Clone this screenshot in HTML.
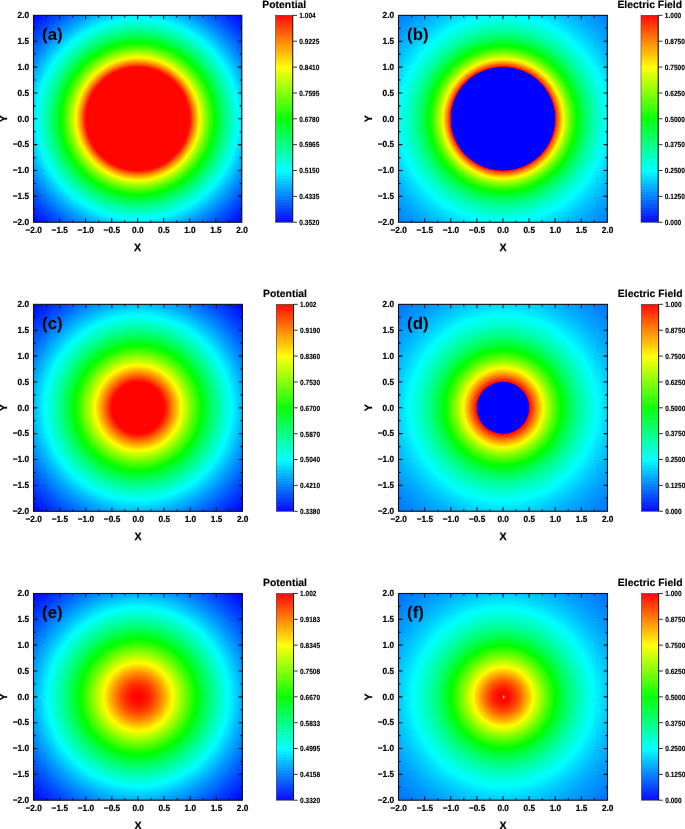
<!DOCTYPE html>
<html><head><meta charset="utf-8"><title>Potential and Electric Field</title>
<style>
html,body{margin:0;padding:0;background:#fff;}
body{width:685px;height:829px;overflow:hidden;}
svg{display:block;}
text{font-family:"Liberation Sans",sans-serif;font-weight:bold;fill:#000;text-rendering:geometricPrecision;}
.t{font-size:8.3px;stroke:#000;stroke-width:0.2px;}
.ax{font-size:10.6px;stroke:#000;stroke-width:0.25px;}
.lab{font-size:16.8px;}
.c{font-size:6.55px;stroke:#000;stroke-width:0.12px;}
.ti{font-size:10.4px;stroke:#000;stroke-width:0.15px;}
</style></head><body>
<svg width="685" height="829" viewBox="0 0 685 829">
<defs><radialGradient id="ga" gradientUnits="userSpaceOnUse" cx="137.65" cy="118.80" r="151.02" gradientTransform="translate(0 0.798) scale(1 0.99328)"><stop offset="0.0000" stop-color="#ff0600"/><stop offset="0.0086" stop-color="#ff0600"/><stop offset="0.0172" stop-color="#ff0600"/><stop offset="0.0259" stop-color="#ff0600"/><stop offset="0.0345" stop-color="#ff0600"/><stop offset="0.0431" stop-color="#ff0600"/><stop offset="0.0517" stop-color="#ff0600"/><stop offset="0.0603" stop-color="#ff0600"/><stop offset="0.0690" stop-color="#ff0600"/><stop offset="0.0776" stop-color="#ff0600"/><stop offset="0.0862" stop-color="#ff0600"/><stop offset="0.0948" stop-color="#ff0600"/><stop offset="0.1034" stop-color="#ff0600"/><stop offset="0.1121" stop-color="#ff0600"/><stop offset="0.1207" stop-color="#ff0600"/><stop offset="0.1293" stop-color="#ff0600"/><stop offset="0.1379" stop-color="#ff0600"/><stop offset="0.1466" stop-color="#ff0600"/><stop offset="0.1552" stop-color="#ff0600"/><stop offset="0.1638" stop-color="#ff0600"/><stop offset="0.1724" stop-color="#ff0600"/><stop offset="0.1810" stop-color="#ff0600"/><stop offset="0.1897" stop-color="#ff0600"/><stop offset="0.1983" stop-color="#ff0600"/><stop offset="0.2069" stop-color="#ff0600"/><stop offset="0.2155" stop-color="#ff0600"/><stop offset="0.2241" stop-color="#ff0600"/><stop offset="0.2328" stop-color="#ff0600"/><stop offset="0.2414" stop-color="#ff0600"/><stop offset="0.2500" stop-color="#ff0600"/><stop offset="0.2586" stop-color="#ff0600"/><stop offset="0.2672" stop-color="#ff0600"/><stop offset="0.2759" stop-color="#ff0600"/><stop offset="0.2845" stop-color="#ff0600"/><stop offset="0.2931" stop-color="#ff0600"/><stop offset="0.3017" stop-color="#ff0600"/><stop offset="0.3103" stop-color="#ff0600"/><stop offset="0.3190" stop-color="#ff0600"/><stop offset="0.3276" stop-color="#ff0600"/><stop offset="0.3362" stop-color="#ff0600"/><stop offset="0.3434" stop-color="#ff0600"/><stop offset="0.3462" stop-color="#ff0c00"/><stop offset="0.3534" stop-color="#ff2c00"/><stop offset="0.3621" stop-color="#ff5100"/><stop offset="0.3707" stop-color="#ff7300"/><stop offset="0.3793" stop-color="#ff9400"/><stop offset="0.3879" stop-color="#ffb400"/><stop offset="0.3966" stop-color="#ffd200"/><stop offset="0.4052" stop-color="#ffef00"/><stop offset="0.4138" stop-color="#f3ff00"/><stop offset="0.4224" stop-color="#d8ff00"/><stop offset="0.4310" stop-color="#bfff00"/><stop offset="0.4397" stop-color="#a6ff00"/><stop offset="0.4483" stop-color="#8fff00"/><stop offset="0.4569" stop-color="#78ff00"/><stop offset="0.4655" stop-color="#62ff00"/><stop offset="0.4741" stop-color="#4dff00"/><stop offset="0.4828" stop-color="#39ff00"/><stop offset="0.4914" stop-color="#25ff00"/><stop offset="0.5000" stop-color="#12ff00"/><stop offset="0.5086" stop-color="#00ff00"/><stop offset="0.5172" stop-color="#00ff12"/><stop offset="0.5259" stop-color="#00ff23"/><stop offset="0.5345" stop-color="#00ff33"/><stop offset="0.5431" stop-color="#00ff43"/><stop offset="0.5517" stop-color="#00ff53"/><stop offset="0.5603" stop-color="#00ff62"/><stop offset="0.5690" stop-color="#00ff71"/><stop offset="0.5776" stop-color="#00ff7f"/><stop offset="0.5862" stop-color="#00ff8c"/><stop offset="0.5948" stop-color="#00ff9a"/><stop offset="0.6034" stop-color="#00ffa7"/><stop offset="0.6121" stop-color="#00ffb3"/><stop offset="0.6207" stop-color="#00ffc0"/><stop offset="0.6293" stop-color="#00ffcb"/><stop offset="0.6379" stop-color="#00ffd7"/><stop offset="0.6466" stop-color="#00ffe2"/><stop offset="0.6552" stop-color="#00ffed"/><stop offset="0.6638" stop-color="#00fff8"/><stop offset="0.6724" stop-color="#00fcff"/><stop offset="0.6810" stop-color="#00f1ff"/><stop offset="0.6897" stop-color="#00e8ff"/><stop offset="0.6983" stop-color="#00deff"/><stop offset="0.7069" stop-color="#00d4ff"/><stop offset="0.7155" stop-color="#00cbff"/><stop offset="0.7241" stop-color="#00c2ff"/><stop offset="0.7328" stop-color="#00baff"/><stop offset="0.7414" stop-color="#00b1ff"/><stop offset="0.7500" stop-color="#00a9ff"/><stop offset="0.7586" stop-color="#00a0ff"/><stop offset="0.7672" stop-color="#0098ff"/><stop offset="0.7759" stop-color="#0091ff"/><stop offset="0.7845" stop-color="#0089ff"/><stop offset="0.7931" stop-color="#0082ff"/><stop offset="0.8017" stop-color="#007aff"/><stop offset="0.8103" stop-color="#0073ff"/><stop offset="0.8190" stop-color="#006cff"/><stop offset="0.8276" stop-color="#0065ff"/><stop offset="0.8362" stop-color="#005eff"/><stop offset="0.8448" stop-color="#0058ff"/><stop offset="0.8534" stop-color="#0051ff"/><stop offset="0.8621" stop-color="#004bff"/><stop offset="0.8707" stop-color="#0045ff"/><stop offset="0.8793" stop-color="#003fff"/><stop offset="0.8879" stop-color="#0039ff"/><stop offset="0.8966" stop-color="#0033ff"/><stop offset="0.9052" stop-color="#002dff"/><stop offset="0.9138" stop-color="#0028ff"/><stop offset="0.9224" stop-color="#0022ff"/><stop offset="0.9310" stop-color="#001dff"/><stop offset="0.9397" stop-color="#0017ff"/><stop offset="0.9483" stop-color="#0012ff"/><stop offset="0.9569" stop-color="#000dff"/><stop offset="0.9655" stop-color="#0008ff"/><stop offset="0.9741" stop-color="#0003ff"/><stop offset="0.9828" stop-color="#0000ff"/><stop offset="0.9914" stop-color="#0000ff"/><stop offset="1.0000" stop-color="#0000ff"/></radialGradient>
<radialGradient id="gb" gradientUnits="userSpaceOnUse" cx="502.93" cy="118.80" r="151.42" gradientTransform="translate(0 1.109) scale(1 0.99066)"><stop offset="0.0000" stop-color="#0000ff"/><stop offset="0.0086" stop-color="#0000ff"/><stop offset="0.0172" stop-color="#0000ff"/><stop offset="0.0259" stop-color="#0000ff"/><stop offset="0.0345" stop-color="#0000ff"/><stop offset="0.0431" stop-color="#0000ff"/><stop offset="0.0517" stop-color="#0000ff"/><stop offset="0.0603" stop-color="#0000ff"/><stop offset="0.0690" stop-color="#0000ff"/><stop offset="0.0776" stop-color="#0000ff"/><stop offset="0.0862" stop-color="#0000ff"/><stop offset="0.0948" stop-color="#0000ff"/><stop offset="0.1034" stop-color="#0000ff"/><stop offset="0.1121" stop-color="#0000ff"/><stop offset="0.1207" stop-color="#0000ff"/><stop offset="0.1293" stop-color="#0000ff"/><stop offset="0.1379" stop-color="#0000ff"/><stop offset="0.1466" stop-color="#0000ff"/><stop offset="0.1552" stop-color="#0000ff"/><stop offset="0.1638" stop-color="#0000ff"/><stop offset="0.1724" stop-color="#0000ff"/><stop offset="0.1810" stop-color="#0000ff"/><stop offset="0.1897" stop-color="#0000ff"/><stop offset="0.1983" stop-color="#0000ff"/><stop offset="0.2069" stop-color="#0000ff"/><stop offset="0.2155" stop-color="#0000ff"/><stop offset="0.2241" stop-color="#0000ff"/><stop offset="0.2328" stop-color="#0000ff"/><stop offset="0.2414" stop-color="#0000ff"/><stop offset="0.2500" stop-color="#0000ff"/><stop offset="0.2586" stop-color="#0000ff"/><stop offset="0.2672" stop-color="#0000ff"/><stop offset="0.2759" stop-color="#0000ff"/><stop offset="0.2845" stop-color="#0000ff"/><stop offset="0.2931" stop-color="#0000ff"/><stop offset="0.3017" stop-color="#0000ff"/><stop offset="0.3103" stop-color="#0000ff"/><stop offset="0.3190" stop-color="#0000ff"/><stop offset="0.3276" stop-color="#0000ff"/><stop offset="0.3362" stop-color="#0000ff"/><stop offset="0.3434" stop-color="#0000ff"/><stop offset="0.3462" stop-color="#ff0000"/><stop offset="0.3534" stop-color="#ff3100"/><stop offset="0.3621" stop-color="#ff5f00"/><stop offset="0.3707" stop-color="#ff8900"/><stop offset="0.3793" stop-color="#ffb100"/><stop offset="0.3879" stop-color="#ffd600"/><stop offset="0.3966" stop-color="#fff900"/><stop offset="0.4052" stop-color="#e5ff00"/><stop offset="0.4138" stop-color="#c6ff00"/><stop offset="0.4224" stop-color="#aaff00"/><stop offset="0.4310" stop-color="#8fff00"/><stop offset="0.4397" stop-color="#75ff00"/><stop offset="0.4483" stop-color="#5eff00"/><stop offset="0.4569" stop-color="#47ff00"/><stop offset="0.4655" stop-color="#32ff00"/><stop offset="0.4741" stop-color="#1eff00"/><stop offset="0.4828" stop-color="#0aff00"/><stop offset="0.4914" stop-color="#00ff08"/><stop offset="0.5000" stop-color="#00ff19"/><stop offset="0.5086" stop-color="#00ff29"/><stop offset="0.5172" stop-color="#00ff39"/><stop offset="0.5259" stop-color="#00ff47"/><stop offset="0.5345" stop-color="#00ff55"/><stop offset="0.5431" stop-color="#00ff63"/><stop offset="0.5517" stop-color="#00ff70"/><stop offset="0.5603" stop-color="#00ff7c"/><stop offset="0.5690" stop-color="#00ff87"/><stop offset="0.5776" stop-color="#00ff92"/><stop offset="0.5862" stop-color="#00ff9d"/><stop offset="0.5948" stop-color="#00ffa7"/><stop offset="0.6034" stop-color="#00ffb1"/><stop offset="0.6121" stop-color="#00ffba"/><stop offset="0.6207" stop-color="#00ffc3"/><stop offset="0.6293" stop-color="#00ffcc"/><stop offset="0.6379" stop-color="#00ffd4"/><stop offset="0.6466" stop-color="#00ffdc"/><stop offset="0.6552" stop-color="#00ffe3"/><stop offset="0.6638" stop-color="#00ffeb"/><stop offset="0.6724" stop-color="#00fff2"/><stop offset="0.6810" stop-color="#00fff9"/><stop offset="0.6897" stop-color="#00ffff"/><stop offset="0.6983" stop-color="#00f9ff"/><stop offset="0.7069" stop-color="#00f3ff"/><stop offset="0.7155" stop-color="#00edff"/><stop offset="0.7241" stop-color="#00e7ff"/><stop offset="0.7328" stop-color="#00e2ff"/><stop offset="0.7414" stop-color="#00ddff"/><stop offset="0.7500" stop-color="#00d8ff"/><stop offset="0.7586" stop-color="#00d3ff"/><stop offset="0.7672" stop-color="#00ceff"/><stop offset="0.7759" stop-color="#00c9ff"/><stop offset="0.7845" stop-color="#00c5ff"/><stop offset="0.7931" stop-color="#00c1ff"/><stop offset="0.8017" stop-color="#00bdff"/><stop offset="0.8103" stop-color="#00b9ff"/><stop offset="0.8190" stop-color="#00b5ff"/><stop offset="0.8276" stop-color="#00b1ff"/><stop offset="0.8362" stop-color="#00adff"/><stop offset="0.8448" stop-color="#00aaff"/><stop offset="0.8534" stop-color="#00a7ff"/><stop offset="0.8621" stop-color="#00a3ff"/><stop offset="0.8707" stop-color="#00a0ff"/><stop offset="0.8793" stop-color="#009dff"/><stop offset="0.8879" stop-color="#009aff"/><stop offset="0.8966" stop-color="#0097ff"/><stop offset="0.9052" stop-color="#0094ff"/><stop offset="0.9138" stop-color="#0091ff"/><stop offset="0.9224" stop-color="#008fff"/><stop offset="0.9310" stop-color="#008cff"/><stop offset="0.9397" stop-color="#0089ff"/><stop offset="0.9483" stop-color="#0087ff"/><stop offset="0.9569" stop-color="#0084ff"/><stop offset="0.9655" stop-color="#0082ff"/><stop offset="0.9741" stop-color="#0080ff"/><stop offset="0.9828" stop-color="#007eff"/><stop offset="0.9914" stop-color="#007bff"/><stop offset="1.0000" stop-color="#0079ff"/></radialGradient>
<radialGradient id="gc" gradientUnits="userSpaceOnUse" cx="137.97" cy="407.83" r="151.49" gradientTransform="translate(0 3.904) scale(1 0.99043)"><stop offset="0.0000" stop-color="#ff0300"/><stop offset="0.0086" stop-color="#ff0300"/><stop offset="0.0172" stop-color="#ff0300"/><stop offset="0.0259" stop-color="#ff0300"/><stop offset="0.0345" stop-color="#ff0300"/><stop offset="0.0431" stop-color="#ff0300"/><stop offset="0.0517" stop-color="#ff0300"/><stop offset="0.0603" stop-color="#ff0300"/><stop offset="0.0690" stop-color="#ff0300"/><stop offset="0.0776" stop-color="#ff0300"/><stop offset="0.0862" stop-color="#ff0300"/><stop offset="0.0948" stop-color="#ff0300"/><stop offset="0.1034" stop-color="#ff0300"/><stop offset="0.1121" stop-color="#ff0300"/><stop offset="0.1207" stop-color="#ff0300"/><stop offset="0.1293" stop-color="#ff0300"/><stop offset="0.1379" stop-color="#ff0300"/><stop offset="0.1466" stop-color="#ff0300"/><stop offset="0.1552" stop-color="#ff0300"/><stop offset="0.1638" stop-color="#ff0300"/><stop offset="0.1710" stop-color="#ff0300"/><stop offset="0.1738" stop-color="#ff0600"/><stop offset="0.1810" stop-color="#ff1600"/><stop offset="0.1897" stop-color="#ff2a00"/><stop offset="0.1983" stop-color="#ff3d00"/><stop offset="0.2069" stop-color="#ff5100"/><stop offset="0.2155" stop-color="#ff6500"/><stop offset="0.2241" stop-color="#ff7900"/><stop offset="0.2328" stop-color="#ff8c00"/><stop offset="0.2414" stop-color="#ffa000"/><stop offset="0.2500" stop-color="#ffb300"/><stop offset="0.2586" stop-color="#ffc600"/><stop offset="0.2672" stop-color="#ffd900"/><stop offset="0.2759" stop-color="#ffec00"/><stop offset="0.2845" stop-color="#ffff00"/><stop offset="0.2931" stop-color="#edff00"/><stop offset="0.3017" stop-color="#dbff00"/><stop offset="0.3103" stop-color="#c9ff00"/><stop offset="0.3190" stop-color="#b7ff00"/><stop offset="0.3276" stop-color="#a6ff00"/><stop offset="0.3362" stop-color="#95ff00"/><stop offset="0.3448" stop-color="#84ff00"/><stop offset="0.3534" stop-color="#74ff00"/><stop offset="0.3621" stop-color="#63ff00"/><stop offset="0.3707" stop-color="#54ff00"/><stop offset="0.3793" stop-color="#44ff00"/><stop offset="0.3879" stop-color="#35ff00"/><stop offset="0.3966" stop-color="#26ff00"/><stop offset="0.4052" stop-color="#17ff00"/><stop offset="0.4138" stop-color="#09ff00"/><stop offset="0.4224" stop-color="#00ff05"/><stop offset="0.4310" stop-color="#00ff13"/><stop offset="0.4397" stop-color="#00ff21"/><stop offset="0.4483" stop-color="#00ff2e"/><stop offset="0.4569" stop-color="#00ff3b"/><stop offset="0.4655" stop-color="#00ff47"/><stop offset="0.4741" stop-color="#00ff54"/><stop offset="0.4828" stop-color="#00ff60"/><stop offset="0.4914" stop-color="#00ff6c"/><stop offset="0.5000" stop-color="#00ff78"/><stop offset="0.5086" stop-color="#00ff83"/><stop offset="0.5172" stop-color="#00ff8e"/><stop offset="0.5259" stop-color="#00ff99"/><stop offset="0.5345" stop-color="#00ffa4"/><stop offset="0.5431" stop-color="#00ffaf"/><stop offset="0.5517" stop-color="#00ffb9"/><stop offset="0.5603" stop-color="#00ffc3"/><stop offset="0.5690" stop-color="#00ffcd"/><stop offset="0.5776" stop-color="#00ffd7"/><stop offset="0.5862" stop-color="#00ffe0"/><stop offset="0.5948" stop-color="#00ffe9"/><stop offset="0.6034" stop-color="#00fff2"/><stop offset="0.6121" stop-color="#00fffb"/><stop offset="0.6207" stop-color="#00faff"/><stop offset="0.6293" stop-color="#00f1ff"/><stop offset="0.6379" stop-color="#00e9ff"/><stop offset="0.6466" stop-color="#00e1ff"/><stop offset="0.6552" stop-color="#00d8ff"/><stop offset="0.6638" stop-color="#00d1ff"/><stop offset="0.6724" stop-color="#00c9ff"/><stop offset="0.6810" stop-color="#00c1ff"/><stop offset="0.6897" stop-color="#00baff"/><stop offset="0.6983" stop-color="#00b2ff"/><stop offset="0.7069" stop-color="#00abff"/><stop offset="0.7155" stop-color="#00a4ff"/><stop offset="0.7241" stop-color="#009dff"/><stop offset="0.7328" stop-color="#0096ff"/><stop offset="0.7414" stop-color="#0090ff"/><stop offset="0.7500" stop-color="#0089ff"/><stop offset="0.7586" stop-color="#0083ff"/><stop offset="0.7672" stop-color="#007cff"/><stop offset="0.7759" stop-color="#0076ff"/><stop offset="0.7845" stop-color="#0070ff"/><stop offset="0.7931" stop-color="#006aff"/><stop offset="0.8017" stop-color="#0064ff"/><stop offset="0.8103" stop-color="#005eff"/><stop offset="0.8190" stop-color="#0058ff"/><stop offset="0.8276" stop-color="#0053ff"/><stop offset="0.8362" stop-color="#004dff"/><stop offset="0.8448" stop-color="#0048ff"/><stop offset="0.8534" stop-color="#0043ff"/><stop offset="0.8621" stop-color="#003dff"/><stop offset="0.8707" stop-color="#0038ff"/><stop offset="0.8793" stop-color="#0033ff"/><stop offset="0.8879" stop-color="#002eff"/><stop offset="0.8966" stop-color="#0029ff"/><stop offset="0.9052" stop-color="#0025ff"/><stop offset="0.9138" stop-color="#0020ff"/><stop offset="0.9224" stop-color="#001bff"/><stop offset="0.9310" stop-color="#0017ff"/><stop offset="0.9397" stop-color="#0012ff"/><stop offset="0.9483" stop-color="#000eff"/><stop offset="0.9569" stop-color="#0009ff"/><stop offset="0.9655" stop-color="#0005ff"/><stop offset="0.9741" stop-color="#0001ff"/><stop offset="0.9828" stop-color="#0000ff"/><stop offset="0.9914" stop-color="#0000ff"/><stop offset="1.0000" stop-color="#0000ff"/></radialGradient>
<radialGradient id="gd" gradientUnits="userSpaceOnUse" cx="503.00" cy="407.80" r="151.53" gradientTransform="translate(0 4.098) scale(1 0.98995)"><stop offset="0.0000" stop-color="#0000ff"/><stop offset="0.0086" stop-color="#0000ff"/><stop offset="0.0172" stop-color="#0000ff"/><stop offset="0.0259" stop-color="#0000ff"/><stop offset="0.0345" stop-color="#0000ff"/><stop offset="0.0431" stop-color="#0000ff"/><stop offset="0.0517" stop-color="#0000ff"/><stop offset="0.0603" stop-color="#0000ff"/><stop offset="0.0690" stop-color="#0000ff"/><stop offset="0.0776" stop-color="#0000ff"/><stop offset="0.0862" stop-color="#0000ff"/><stop offset="0.0948" stop-color="#0000ff"/><stop offset="0.1034" stop-color="#0000ff"/><stop offset="0.1121" stop-color="#0000ff"/><stop offset="0.1207" stop-color="#0000ff"/><stop offset="0.1293" stop-color="#0000ff"/><stop offset="0.1379" stop-color="#0000ff"/><stop offset="0.1466" stop-color="#0000ff"/><stop offset="0.1552" stop-color="#0000ff"/><stop offset="0.1638" stop-color="#0000ff"/><stop offset="0.1710" stop-color="#0000ff"/><stop offset="0.1738" stop-color="#ff0000"/><stop offset="0.1810" stop-color="#ff1900"/><stop offset="0.1897" stop-color="#ff3300"/><stop offset="0.1983" stop-color="#ff4c00"/><stop offset="0.2069" stop-color="#ff6500"/><stop offset="0.2155" stop-color="#ff7e00"/><stop offset="0.2241" stop-color="#ff9600"/><stop offset="0.2328" stop-color="#ffae00"/><stop offset="0.2414" stop-color="#ffc500"/><stop offset="0.2500" stop-color="#ffdc00"/><stop offset="0.2586" stop-color="#fff300"/><stop offset="0.2672" stop-color="#f5ff00"/><stop offset="0.2759" stop-color="#e0ff00"/><stop offset="0.2845" stop-color="#cbff00"/><stop offset="0.2931" stop-color="#b7ff00"/><stop offset="0.3017" stop-color="#a3ff00"/><stop offset="0.3103" stop-color="#90ff00"/><stop offset="0.3190" stop-color="#7dff00"/><stop offset="0.3276" stop-color="#6bff00"/><stop offset="0.3362" stop-color="#5aff00"/><stop offset="0.3448" stop-color="#49ff00"/><stop offset="0.3534" stop-color="#38ff00"/><stop offset="0.3621" stop-color="#29ff00"/><stop offset="0.3707" stop-color="#19ff00"/><stop offset="0.3793" stop-color="#0aff00"/><stop offset="0.3879" stop-color="#00ff04"/><stop offset="0.3966" stop-color="#00ff12"/><stop offset="0.4052" stop-color="#00ff1f"/><stop offset="0.4138" stop-color="#00ff2c"/><stop offset="0.4224" stop-color="#00ff39"/><stop offset="0.4310" stop-color="#00ff45"/><stop offset="0.4397" stop-color="#00ff51"/><stop offset="0.4483" stop-color="#00ff5c"/><stop offset="0.4569" stop-color="#00ff67"/><stop offset="0.4655" stop-color="#00ff71"/><stop offset="0.4741" stop-color="#00ff7c"/><stop offset="0.4828" stop-color="#00ff86"/><stop offset="0.4914" stop-color="#00ff8f"/><stop offset="0.5000" stop-color="#00ff98"/><stop offset="0.5086" stop-color="#00ffa1"/><stop offset="0.5172" stop-color="#00ffaa"/><stop offset="0.5259" stop-color="#00ffb2"/><stop offset="0.5345" stop-color="#00ffba"/><stop offset="0.5431" stop-color="#00ffc2"/><stop offset="0.5517" stop-color="#00ffca"/><stop offset="0.5603" stop-color="#00ffd1"/><stop offset="0.5690" stop-color="#00ffd8"/><stop offset="0.5776" stop-color="#00ffdf"/><stop offset="0.5862" stop-color="#00ffe6"/><stop offset="0.5948" stop-color="#00ffec"/><stop offset="0.6034" stop-color="#00fff2"/><stop offset="0.6121" stop-color="#00fff9"/><stop offset="0.6207" stop-color="#00fffe"/><stop offset="0.6293" stop-color="#00faff"/><stop offset="0.6379" stop-color="#00f4ff"/><stop offset="0.6466" stop-color="#00efff"/><stop offset="0.6552" stop-color="#00eaff"/><stop offset="0.6638" stop-color="#00e5ff"/><stop offset="0.6724" stop-color="#00e0ff"/><stop offset="0.6810" stop-color="#00dbff"/><stop offset="0.6897" stop-color="#00d7ff"/><stop offset="0.6983" stop-color="#00d2ff"/><stop offset="0.7069" stop-color="#00ceff"/><stop offset="0.7155" stop-color="#00caff"/><stop offset="0.7241" stop-color="#00c6ff"/><stop offset="0.7328" stop-color="#00c2ff"/><stop offset="0.7414" stop-color="#00beff"/><stop offset="0.7500" stop-color="#00baff"/><stop offset="0.7586" stop-color="#00b6ff"/><stop offset="0.7672" stop-color="#00b3ff"/><stop offset="0.7759" stop-color="#00afff"/><stop offset="0.7845" stop-color="#00acff"/><stop offset="0.7931" stop-color="#00a9ff"/><stop offset="0.8017" stop-color="#00a6ff"/><stop offset="0.8103" stop-color="#00a3ff"/><stop offset="0.8190" stop-color="#00a0ff"/><stop offset="0.8276" stop-color="#009dff"/><stop offset="0.8362" stop-color="#009aff"/><stop offset="0.8448" stop-color="#0097ff"/><stop offset="0.8534" stop-color="#0094ff"/><stop offset="0.8621" stop-color="#0092ff"/><stop offset="0.8707" stop-color="#008fff"/><stop offset="0.8793" stop-color="#008dff"/><stop offset="0.8879" stop-color="#008aff"/><stop offset="0.8966" stop-color="#0088ff"/><stop offset="0.9052" stop-color="#0085ff"/><stop offset="0.9138" stop-color="#0083ff"/><stop offset="0.9224" stop-color="#0081ff"/><stop offset="0.9310" stop-color="#007fff"/><stop offset="0.9397" stop-color="#007dff"/><stop offset="0.9483" stop-color="#007bff"/><stop offset="0.9569" stop-color="#0079ff"/><stop offset="0.9655" stop-color="#0077ff"/><stop offset="0.9741" stop-color="#0075ff"/><stop offset="0.9828" stop-color="#0073ff"/><stop offset="0.9914" stop-color="#0071ff"/><stop offset="1.0000" stop-color="#006fff"/></radialGradient>
<radialGradient id="ge" gradientUnits="userSpaceOnUse" cx="137.95" cy="696.85" r="151.45" gradientTransform="translate(0 7.339) scale(1 0.98947)"><stop offset="0.0000" stop-color="#ff0300"/><stop offset="0.0086" stop-color="#ff0400"/><stop offset="0.0172" stop-color="#ff0500"/><stop offset="0.0259" stop-color="#ff0700"/><stop offset="0.0345" stop-color="#ff0b00"/><stop offset="0.0431" stop-color="#ff0f00"/><stop offset="0.0517" stop-color="#ff1400"/><stop offset="0.0603" stop-color="#ff1a00"/><stop offset="0.0690" stop-color="#ff2100"/><stop offset="0.0776" stop-color="#ff2800"/><stop offset="0.0862" stop-color="#ff3000"/><stop offset="0.0948" stop-color="#ff3a00"/><stop offset="0.1034" stop-color="#ff4300"/><stop offset="0.1121" stop-color="#ff4e00"/><stop offset="0.1207" stop-color="#ff5900"/><stop offset="0.1293" stop-color="#ff6400"/><stop offset="0.1379" stop-color="#ff7000"/><stop offset="0.1466" stop-color="#ff7c00"/><stop offset="0.1552" stop-color="#ff8900"/><stop offset="0.1638" stop-color="#ff9600"/><stop offset="0.1724" stop-color="#ffa400"/><stop offset="0.1810" stop-color="#ffb200"/><stop offset="0.1897" stop-color="#ffbf00"/><stop offset="0.1983" stop-color="#ffce00"/><stop offset="0.2069" stop-color="#ffdc00"/><stop offset="0.2155" stop-color="#ffea00"/><stop offset="0.2241" stop-color="#fff900"/><stop offset="0.2328" stop-color="#f6ff00"/><stop offset="0.2414" stop-color="#e8ff00"/><stop offset="0.2500" stop-color="#d9ff00"/><stop offset="0.2586" stop-color="#caff00"/><stop offset="0.2672" stop-color="#bcff00"/><stop offset="0.2759" stop-color="#adff00"/><stop offset="0.2845" stop-color="#9fff00"/><stop offset="0.2931" stop-color="#91ff00"/><stop offset="0.3017" stop-color="#82ff00"/><stop offset="0.3103" stop-color="#74ff00"/><stop offset="0.3190" stop-color="#66ff00"/><stop offset="0.3276" stop-color="#58ff00"/><stop offset="0.3362" stop-color="#4bff00"/><stop offset="0.3448" stop-color="#3dff00"/><stop offset="0.3534" stop-color="#30ff00"/><stop offset="0.3621" stop-color="#22ff00"/><stop offset="0.3707" stop-color="#15ff00"/><stop offset="0.3793" stop-color="#09ff00"/><stop offset="0.3879" stop-color="#00ff04"/><stop offset="0.3966" stop-color="#00ff10"/><stop offset="0.4052" stop-color="#00ff1d"/><stop offset="0.4138" stop-color="#00ff29"/><stop offset="0.4224" stop-color="#00ff35"/><stop offset="0.4310" stop-color="#00ff40"/><stop offset="0.4397" stop-color="#00ff4c"/><stop offset="0.4483" stop-color="#00ff57"/><stop offset="0.4569" stop-color="#00ff62"/><stop offset="0.4655" stop-color="#00ff6d"/><stop offset="0.4741" stop-color="#00ff78"/><stop offset="0.4828" stop-color="#00ff83"/><stop offset="0.4914" stop-color="#00ff8d"/><stop offset="0.5000" stop-color="#00ff97"/><stop offset="0.5086" stop-color="#00ffa1"/><stop offset="0.5172" stop-color="#00ffab"/><stop offset="0.5259" stop-color="#00ffb5"/><stop offset="0.5345" stop-color="#00ffbe"/><stop offset="0.5431" stop-color="#00ffc7"/><stop offset="0.5517" stop-color="#00ffd1"/><stop offset="0.5603" stop-color="#00ffda"/><stop offset="0.5690" stop-color="#00ffe2"/><stop offset="0.5776" stop-color="#00ffeb"/><stop offset="0.5862" stop-color="#00fff4"/><stop offset="0.5948" stop-color="#00fffc"/><stop offset="0.6034" stop-color="#00faff"/><stop offset="0.6121" stop-color="#00f2ff"/><stop offset="0.6207" stop-color="#00eaff"/><stop offset="0.6293" stop-color="#00e2ff"/><stop offset="0.6379" stop-color="#00daff"/><stop offset="0.6466" stop-color="#00d3ff"/><stop offset="0.6552" stop-color="#00ccff"/><stop offset="0.6638" stop-color="#00c4ff"/><stop offset="0.6724" stop-color="#00bdff"/><stop offset="0.6810" stop-color="#00b6ff"/><stop offset="0.6897" stop-color="#00afff"/><stop offset="0.6983" stop-color="#00a9ff"/><stop offset="0.7069" stop-color="#00a2ff"/><stop offset="0.7155" stop-color="#009bff"/><stop offset="0.7241" stop-color="#0095ff"/><stop offset="0.7328" stop-color="#008fff"/><stop offset="0.7414" stop-color="#0089ff"/><stop offset="0.7500" stop-color="#0083ff"/><stop offset="0.7586" stop-color="#007dff"/><stop offset="0.7672" stop-color="#0077ff"/><stop offset="0.7759" stop-color="#0071ff"/><stop offset="0.7845" stop-color="#006bff"/><stop offset="0.7931" stop-color="#0066ff"/><stop offset="0.8017" stop-color="#0060ff"/><stop offset="0.8103" stop-color="#005bff"/><stop offset="0.8190" stop-color="#0055ff"/><stop offset="0.8276" stop-color="#0050ff"/><stop offset="0.8362" stop-color="#004bff"/><stop offset="0.8448" stop-color="#0046ff"/><stop offset="0.8534" stop-color="#0041ff"/><stop offset="0.8621" stop-color="#003cff"/><stop offset="0.8707" stop-color="#0037ff"/><stop offset="0.8793" stop-color="#0032ff"/><stop offset="0.8879" stop-color="#002eff"/><stop offset="0.8966" stop-color="#0029ff"/><stop offset="0.9052" stop-color="#0025ff"/><stop offset="0.9138" stop-color="#0020ff"/><stop offset="0.9224" stop-color="#001cff"/><stop offset="0.9310" stop-color="#0017ff"/><stop offset="0.9397" stop-color="#0013ff"/><stop offset="0.9483" stop-color="#000fff"/><stop offset="0.9569" stop-color="#000bff"/><stop offset="0.9655" stop-color="#0007ff"/><stop offset="0.9741" stop-color="#0003ff"/><stop offset="0.9828" stop-color="#0000ff"/><stop offset="0.9914" stop-color="#0000ff"/><stop offset="1.0000" stop-color="#0000ff"/></radialGradient>
<radialGradient id="gf" gradientUnits="userSpaceOnUse" cx="503.00" cy="696.85" r="151.53" gradientTransform="translate(0 7.669) scale(1 0.98900)"><stop offset="0.0000" stop-color="#ff0000"/><stop offset="0.0086" stop-color="#ff0100"/><stop offset="0.0172" stop-color="#ff0300"/><stop offset="0.0259" stop-color="#ff0600"/><stop offset="0.0345" stop-color="#ff0a00"/><stop offset="0.0431" stop-color="#ff1000"/><stop offset="0.0517" stop-color="#ff1600"/><stop offset="0.0603" stop-color="#ff1e00"/><stop offset="0.0690" stop-color="#ff2700"/><stop offset="0.0776" stop-color="#ff3100"/><stop offset="0.0862" stop-color="#ff3c00"/><stop offset="0.0948" stop-color="#ff4800"/><stop offset="0.1034" stop-color="#ff5400"/><stop offset="0.1121" stop-color="#ff6100"/><stop offset="0.1207" stop-color="#ff6f00"/><stop offset="0.1293" stop-color="#ff7e00"/><stop offset="0.1379" stop-color="#ff8d00"/><stop offset="0.1466" stop-color="#ff9c00"/><stop offset="0.1552" stop-color="#ffac00"/><stop offset="0.1638" stop-color="#ffbc00"/><stop offset="0.1724" stop-color="#ffcc00"/><stop offset="0.1810" stop-color="#ffdc00"/><stop offset="0.1897" stop-color="#ffed00"/><stop offset="0.1983" stop-color="#fffd00"/><stop offset="0.2069" stop-color="#f0ff00"/><stop offset="0.2155" stop-color="#dfff00"/><stop offset="0.2241" stop-color="#cfff00"/><stop offset="0.2328" stop-color="#bfff00"/><stop offset="0.2414" stop-color="#afff00"/><stop offset="0.2500" stop-color="#9fff00"/><stop offset="0.2586" stop-color="#8fff00"/><stop offset="0.2672" stop-color="#7fff00"/><stop offset="0.2759" stop-color="#70ff00"/><stop offset="0.2845" stop-color="#61ff00"/><stop offset="0.2931" stop-color="#52ff00"/><stop offset="0.3017" stop-color="#44ff00"/><stop offset="0.3103" stop-color="#36ff00"/><stop offset="0.3190" stop-color="#28ff00"/><stop offset="0.3276" stop-color="#1aff00"/><stop offset="0.3362" stop-color="#0dff00"/><stop offset="0.3448" stop-color="#00ff00"/><stop offset="0.3534" stop-color="#00ff0d"/><stop offset="0.3621" stop-color="#00ff19"/><stop offset="0.3707" stop-color="#00ff25"/><stop offset="0.3793" stop-color="#00ff30"/><stop offset="0.3879" stop-color="#00ff3c"/><stop offset="0.3966" stop-color="#00ff47"/><stop offset="0.4052" stop-color="#00ff52"/><stop offset="0.4138" stop-color="#00ff5c"/><stop offset="0.4224" stop-color="#00ff66"/><stop offset="0.4310" stop-color="#00ff70"/><stop offset="0.4397" stop-color="#00ff7a"/><stop offset="0.4483" stop-color="#00ff83"/><stop offset="0.4569" stop-color="#00ff8c"/><stop offset="0.4655" stop-color="#00ff95"/><stop offset="0.4741" stop-color="#00ff9d"/><stop offset="0.4828" stop-color="#00ffa5"/><stop offset="0.4914" stop-color="#00ffad"/><stop offset="0.5000" stop-color="#00ffb5"/><stop offset="0.5086" stop-color="#00ffbd"/><stop offset="0.5172" stop-color="#00ffc4"/><stop offset="0.5259" stop-color="#00ffcb"/><stop offset="0.5345" stop-color="#00ffd2"/><stop offset="0.5431" stop-color="#00ffd9"/><stop offset="0.5517" stop-color="#00ffdf"/><stop offset="0.5603" stop-color="#00ffe6"/><stop offset="0.5690" stop-color="#00ffec"/><stop offset="0.5776" stop-color="#00fff2"/><stop offset="0.5862" stop-color="#00fff8"/><stop offset="0.5948" stop-color="#00fffd"/><stop offset="0.6034" stop-color="#00fbff"/><stop offset="0.6121" stop-color="#00f6ff"/><stop offset="0.6207" stop-color="#00f1ff"/><stop offset="0.6293" stop-color="#00ecff"/><stop offset="0.6379" stop-color="#00e7ff"/><stop offset="0.6466" stop-color="#00e2ff"/><stop offset="0.6552" stop-color="#00ddff"/><stop offset="0.6638" stop-color="#00d9ff"/><stop offset="0.6724" stop-color="#00d4ff"/><stop offset="0.6810" stop-color="#00d0ff"/><stop offset="0.6897" stop-color="#00ccff"/><stop offset="0.6983" stop-color="#00c8ff"/><stop offset="0.7069" stop-color="#00c4ff"/><stop offset="0.7155" stop-color="#00c0ff"/><stop offset="0.7241" stop-color="#00bdff"/><stop offset="0.7328" stop-color="#00b9ff"/><stop offset="0.7414" stop-color="#00b5ff"/><stop offset="0.7500" stop-color="#00b2ff"/><stop offset="0.7586" stop-color="#00afff"/><stop offset="0.7672" stop-color="#00abff"/><stop offset="0.7759" stop-color="#00a8ff"/><stop offset="0.7845" stop-color="#00a5ff"/><stop offset="0.7931" stop-color="#00a2ff"/><stop offset="0.8017" stop-color="#009fff"/><stop offset="0.8103" stop-color="#009cff"/><stop offset="0.8190" stop-color="#009aff"/><stop offset="0.8276" stop-color="#0097ff"/><stop offset="0.8362" stop-color="#0094ff"/><stop offset="0.8448" stop-color="#0092ff"/><stop offset="0.8534" stop-color="#008fff"/><stop offset="0.8621" stop-color="#008dff"/><stop offset="0.8707" stop-color="#008aff"/><stop offset="0.8793" stop-color="#0088ff"/><stop offset="0.8879" stop-color="#0086ff"/><stop offset="0.8966" stop-color="#0083ff"/><stop offset="0.9052" stop-color="#0081ff"/><stop offset="0.9138" stop-color="#007fff"/><stop offset="0.9224" stop-color="#007dff"/><stop offset="0.9310" stop-color="#007bff"/><stop offset="0.9397" stop-color="#0079ff"/><stop offset="0.9483" stop-color="#0077ff"/><stop offset="0.9569" stop-color="#0075ff"/><stop offset="0.9655" stop-color="#0073ff"/><stop offset="0.9741" stop-color="#0072ff"/><stop offset="0.9828" stop-color="#0070ff"/><stop offset="0.9914" stop-color="#006eff"/><stop offset="1.0000" stop-color="#006cff"/></radialGradient>
<pattern id="st" patternUnits="userSpaceOnUse" x="0" y="0" width="20" height="2.01"><rect x="0" y="1.0" width="20" height="1.0" fill="#fff" fill-opacity="0.08"/></pattern>
<linearGradient id="cb" x1="0" y1="0" x2="0" y2="1"><stop offset="0.0000" stop-color="#ff0500"/><stop offset="0.0097" stop-color="#ff0500"/><stop offset="0.0097" stop-color="#ff0f00"/><stop offset="0.0194" stop-color="#ff0f00"/><stop offset="0.0194" stop-color="#ff1900"/><stop offset="0.0291" stop-color="#ff1900"/><stop offset="0.0291" stop-color="#ff2300"/><stop offset="0.0388" stop-color="#ff2300"/><stop offset="0.0388" stop-color="#ff2d00"/><stop offset="0.0485" stop-color="#ff2d00"/><stop offset="0.0485" stop-color="#ff3600"/><stop offset="0.0583" stop-color="#ff3600"/><stop offset="0.0583" stop-color="#ff4000"/><stop offset="0.0680" stop-color="#ff4000"/><stop offset="0.0680" stop-color="#ff4a00"/><stop offset="0.0777" stop-color="#ff4a00"/><stop offset="0.0777" stop-color="#ff5400"/><stop offset="0.0874" stop-color="#ff5400"/><stop offset="0.0874" stop-color="#ff5e00"/><stop offset="0.0971" stop-color="#ff5e00"/><stop offset="0.0971" stop-color="#ff6800"/><stop offset="0.1068" stop-color="#ff6800"/><stop offset="0.1068" stop-color="#ff7200"/><stop offset="0.1165" stop-color="#ff7200"/><stop offset="0.1165" stop-color="#ff7c00"/><stop offset="0.1262" stop-color="#ff7c00"/><stop offset="0.1262" stop-color="#ff8600"/><stop offset="0.1359" stop-color="#ff8600"/><stop offset="0.1359" stop-color="#ff9000"/><stop offset="0.1456" stop-color="#ff9000"/><stop offset="0.1456" stop-color="#ff9900"/><stop offset="0.1553" stop-color="#ff9900"/><stop offset="0.1553" stop-color="#ffa300"/><stop offset="0.1650" stop-color="#ffa300"/><stop offset="0.1650" stop-color="#ffad00"/><stop offset="0.1748" stop-color="#ffad00"/><stop offset="0.1748" stop-color="#ffb700"/><stop offset="0.1845" stop-color="#ffb700"/><stop offset="0.1845" stop-color="#ffc100"/><stop offset="0.1942" stop-color="#ffc100"/><stop offset="0.1942" stop-color="#ffcb00"/><stop offset="0.2039" stop-color="#ffcb00"/><stop offset="0.2039" stop-color="#ffd500"/><stop offset="0.2136" stop-color="#ffd500"/><stop offset="0.2136" stop-color="#ffdf00"/><stop offset="0.2233" stop-color="#ffdf00"/><stop offset="0.2233" stop-color="#ffe900"/><stop offset="0.2330" stop-color="#ffe900"/><stop offset="0.2330" stop-color="#fff300"/><stop offset="0.2427" stop-color="#fff300"/><stop offset="0.2427" stop-color="#fffd00"/><stop offset="0.2524" stop-color="#fffd00"/><stop offset="0.2524" stop-color="#f8ff00"/><stop offset="0.2621" stop-color="#f8ff00"/><stop offset="0.2621" stop-color="#eeff00"/><stop offset="0.2718" stop-color="#eeff00"/><stop offset="0.2718" stop-color="#e4ff00"/><stop offset="0.2816" stop-color="#e4ff00"/><stop offset="0.2816" stop-color="#daff00"/><stop offset="0.2913" stop-color="#daff00"/><stop offset="0.2913" stop-color="#d0ff00"/><stop offset="0.3010" stop-color="#d0ff00"/><stop offset="0.3010" stop-color="#c6ff00"/><stop offset="0.3107" stop-color="#c6ff00"/><stop offset="0.3107" stop-color="#bcff00"/><stop offset="0.3204" stop-color="#bcff00"/><stop offset="0.3204" stop-color="#b2ff00"/><stop offset="0.3301" stop-color="#b2ff00"/><stop offset="0.3301" stop-color="#a8ff00"/><stop offset="0.3398" stop-color="#a8ff00"/><stop offset="0.3398" stop-color="#9eff00"/><stop offset="0.3495" stop-color="#9eff00"/><stop offset="0.3495" stop-color="#95ff00"/><stop offset="0.3592" stop-color="#95ff00"/><stop offset="0.3592" stop-color="#8bff00"/><stop offset="0.3689" stop-color="#8bff00"/><stop offset="0.3689" stop-color="#81ff00"/><stop offset="0.3786" stop-color="#81ff00"/><stop offset="0.3786" stop-color="#77ff00"/><stop offset="0.3883" stop-color="#77ff00"/><stop offset="0.3883" stop-color="#6dff00"/><stop offset="0.3981" stop-color="#6dff00"/><stop offset="0.3981" stop-color="#63ff00"/><stop offset="0.4078" stop-color="#63ff00"/><stop offset="0.4078" stop-color="#59ff00"/><stop offset="0.4175" stop-color="#59ff00"/><stop offset="0.4175" stop-color="#4fff00"/><stop offset="0.4272" stop-color="#4fff00"/><stop offset="0.4272" stop-color="#45ff00"/><stop offset="0.4369" stop-color="#45ff00"/><stop offset="0.4369" stop-color="#3bff00"/><stop offset="0.4466" stop-color="#3bff00"/><stop offset="0.4466" stop-color="#32ff00"/><stop offset="0.4563" stop-color="#32ff00"/><stop offset="0.4563" stop-color="#28ff00"/><stop offset="0.4660" stop-color="#28ff00"/><stop offset="0.4660" stop-color="#1eff00"/><stop offset="0.4757" stop-color="#1eff00"/><stop offset="0.4757" stop-color="#14ff00"/><stop offset="0.4854" stop-color="#14ff00"/><stop offset="0.4854" stop-color="#0aff00"/><stop offset="0.4951" stop-color="#0aff00"/><stop offset="0.4951" stop-color="#00ff00"/><stop offset="0.5049" stop-color="#00ff00"/><stop offset="0.5049" stop-color="#00ff0a"/><stop offset="0.5146" stop-color="#00ff0a"/><stop offset="0.5146" stop-color="#00ff14"/><stop offset="0.5243" stop-color="#00ff14"/><stop offset="0.5243" stop-color="#00ff1e"/><stop offset="0.5340" stop-color="#00ff1e"/><stop offset="0.5340" stop-color="#00ff28"/><stop offset="0.5437" stop-color="#00ff28"/><stop offset="0.5437" stop-color="#00ff32"/><stop offset="0.5534" stop-color="#00ff32"/><stop offset="0.5534" stop-color="#00ff3b"/><stop offset="0.5631" stop-color="#00ff3b"/><stop offset="0.5631" stop-color="#00ff45"/><stop offset="0.5728" stop-color="#00ff45"/><stop offset="0.5728" stop-color="#00ff4f"/><stop offset="0.5825" stop-color="#00ff4f"/><stop offset="0.5825" stop-color="#00ff59"/><stop offset="0.5922" stop-color="#00ff59"/><stop offset="0.5922" stop-color="#00ff63"/><stop offset="0.6019" stop-color="#00ff63"/><stop offset="0.6019" stop-color="#00ff6d"/><stop offset="0.6117" stop-color="#00ff6d"/><stop offset="0.6117" stop-color="#00ff77"/><stop offset="0.6214" stop-color="#00ff77"/><stop offset="0.6214" stop-color="#00ff81"/><stop offset="0.6311" stop-color="#00ff81"/><stop offset="0.6311" stop-color="#00ff8b"/><stop offset="0.6408" stop-color="#00ff8b"/><stop offset="0.6408" stop-color="#00ff95"/><stop offset="0.6505" stop-color="#00ff95"/><stop offset="0.6505" stop-color="#00ff9e"/><stop offset="0.6602" stop-color="#00ff9e"/><stop offset="0.6602" stop-color="#00ffa8"/><stop offset="0.6699" stop-color="#00ffa8"/><stop offset="0.6699" stop-color="#00ffb2"/><stop offset="0.6796" stop-color="#00ffb2"/><stop offset="0.6796" stop-color="#00ffbc"/><stop offset="0.6893" stop-color="#00ffbc"/><stop offset="0.6893" stop-color="#00ffc6"/><stop offset="0.6990" stop-color="#00ffc6"/><stop offset="0.6990" stop-color="#00ffd0"/><stop offset="0.7087" stop-color="#00ffd0"/><stop offset="0.7087" stop-color="#00ffda"/><stop offset="0.7184" stop-color="#00ffda"/><stop offset="0.7184" stop-color="#00ffe4"/><stop offset="0.7282" stop-color="#00ffe4"/><stop offset="0.7282" stop-color="#00ffee"/><stop offset="0.7379" stop-color="#00ffee"/><stop offset="0.7379" stop-color="#00fff8"/><stop offset="0.7476" stop-color="#00fff8"/><stop offset="0.7476" stop-color="#00fdff"/><stop offset="0.7573" stop-color="#00fdff"/><stop offset="0.7573" stop-color="#00f3ff"/><stop offset="0.7670" stop-color="#00f3ff"/><stop offset="0.7670" stop-color="#00e9ff"/><stop offset="0.7767" stop-color="#00e9ff"/><stop offset="0.7767" stop-color="#00dfff"/><stop offset="0.7864" stop-color="#00dfff"/><stop offset="0.7864" stop-color="#00d5ff"/><stop offset="0.7961" stop-color="#00d5ff"/><stop offset="0.7961" stop-color="#00cbff"/><stop offset="0.8058" stop-color="#00cbff"/><stop offset="0.8058" stop-color="#00c1ff"/><stop offset="0.8155" stop-color="#00c1ff"/><stop offset="0.8155" stop-color="#00b7ff"/><stop offset="0.8252" stop-color="#00b7ff"/><stop offset="0.8252" stop-color="#00adff"/><stop offset="0.8350" stop-color="#00adff"/><stop offset="0.8350" stop-color="#00a3ff"/><stop offset="0.8447" stop-color="#00a3ff"/><stop offset="0.8447" stop-color="#0099ff"/><stop offset="0.8544" stop-color="#0099ff"/><stop offset="0.8544" stop-color="#0090ff"/><stop offset="0.8641" stop-color="#0090ff"/><stop offset="0.8641" stop-color="#0086ff"/><stop offset="0.8738" stop-color="#0086ff"/><stop offset="0.8738" stop-color="#007cff"/><stop offset="0.8835" stop-color="#007cff"/><stop offset="0.8835" stop-color="#0072ff"/><stop offset="0.8932" stop-color="#0072ff"/><stop offset="0.8932" stop-color="#0068ff"/><stop offset="0.9029" stop-color="#0068ff"/><stop offset="0.9029" stop-color="#005eff"/><stop offset="0.9126" stop-color="#005eff"/><stop offset="0.9126" stop-color="#0054ff"/><stop offset="0.9223" stop-color="#0054ff"/><stop offset="0.9223" stop-color="#004aff"/><stop offset="0.9320" stop-color="#004aff"/><stop offset="0.9320" stop-color="#0040ff"/><stop offset="0.9417" stop-color="#0040ff"/><stop offset="0.9417" stop-color="#0036ff"/><stop offset="0.9515" stop-color="#0036ff"/><stop offset="0.9515" stop-color="#002dff"/><stop offset="0.9612" stop-color="#002dff"/><stop offset="0.9612" stop-color="#0023ff"/><stop offset="0.9709" stop-color="#0023ff"/><stop offset="0.9709" stop-color="#0019ff"/><stop offset="0.9806" stop-color="#0019ff"/><stop offset="0.9806" stop-color="#000fff"/><stop offset="0.9903" stop-color="#000fff"/><stop offset="0.9903" stop-color="#0005ff"/><stop offset="1.0000" stop-color="#0005ff"/></linearGradient></defs>
<rect width="685" height="829" fill="#fff"/>
<g><rect x="33.50" y="15.35" width="208.30" height="206.90" fill="url(#ga)"/><path d="M46.52 222.25v-2.10M46.52 15.35v2.10M33.50 28.28h2.10M241.80 28.28h-2.10M59.54 222.25v-3.90M59.54 15.35v3.90M33.50 41.21h3.90M241.80 41.21h-3.90M72.56 222.25v-2.10M72.56 15.35v2.10M33.50 54.14h2.10M241.80 54.14h-2.10M85.58 222.25v-3.90M85.58 15.35v3.90M33.50 67.08h3.90M241.80 67.08h-3.90M98.59 222.25v-2.10M98.59 15.35v2.10M33.50 80.01h2.10M241.80 80.01h-2.10M111.61 222.25v-3.90M111.61 15.35v3.90M33.50 92.94h3.90M241.80 92.94h-3.90M124.63 222.25v-2.10M124.63 15.35v2.10M33.50 105.87h2.10M241.80 105.87h-2.10M137.65 222.25v-3.90M137.65 15.35v3.90M33.50 118.80h3.90M241.80 118.80h-3.90M150.67 222.25v-2.10M150.67 15.35v2.10M33.50 131.73h2.10M241.80 131.73h-2.10M163.69 222.25v-3.90M163.69 15.35v3.90M33.50 144.66h3.90M241.80 144.66h-3.90M176.71 222.25v-2.10M176.71 15.35v2.10M33.50 157.59h2.10M241.80 157.59h-2.10M189.73 222.25v-3.90M189.73 15.35v3.90M33.50 170.53h3.90M241.80 170.53h-3.90M202.74 222.25v-2.10M202.74 15.35v2.10M33.50 183.46h2.10M241.80 183.46h-2.10M215.76 222.25v-3.90M215.76 15.35v3.90M33.50 196.39h3.90M241.80 196.39h-3.90M228.78 222.25v-2.10M228.78 15.35v2.10M33.50 209.32h2.10M241.80 209.32h-2.10" stroke="#111" stroke-width="1.1" fill="none"/><rect x="33.50" y="15.35" width="208.30" height="206.90" fill="none" stroke="#111" stroke-width="1.12"/><text class="t" transform="translate(33.70 233.25) scale(1 1.07)" text-anchor="middle">−2.0</text><text class="t" transform="translate(29.10 224.95) scale(1 1.07)" text-anchor="end">−2.0</text><text class="t" transform="translate(59.74 233.25) scale(1 1.07)" text-anchor="middle">−1.5</text><text class="t" transform="translate(29.10 199.09) scale(1 1.07)" text-anchor="end">−1.5</text><text class="t" transform="translate(85.78 233.25) scale(1 1.07)" text-anchor="middle">−1.0</text><text class="t" transform="translate(29.10 173.22) scale(1 1.07)" text-anchor="end">−1.0</text><text class="t" transform="translate(111.81 233.25) scale(1 1.07)" text-anchor="middle">−0.5</text><text class="t" transform="translate(29.10 147.36) scale(1 1.07)" text-anchor="end">−0.5</text><text class="t" transform="translate(137.85 233.25) scale(1 1.07)" text-anchor="middle">0.0</text><text class="t" transform="translate(29.10 121.50) scale(1 1.07)" text-anchor="end">0.0</text><text class="t" transform="translate(163.89 233.25) scale(1 1.07)" text-anchor="middle">0.5</text><text class="t" transform="translate(29.10 95.64) scale(1 1.07)" text-anchor="end">0.5</text><text class="t" transform="translate(189.93 233.25) scale(1 1.07)" text-anchor="middle">1.0</text><text class="t" transform="translate(29.10 69.77) scale(1 1.07)" text-anchor="end">1.0</text><text class="t" transform="translate(215.96 233.25) scale(1 1.07)" text-anchor="middle">1.5</text><text class="t" transform="translate(29.10 43.91) scale(1 1.07)" text-anchor="end">1.5</text><text class="t" transform="translate(242.00 233.25) scale(1 1.07)" text-anchor="middle">2.0</text><text class="t" transform="translate(29.10 18.05) scale(1 1.07)" text-anchor="end">2.0</text><text class="ax" x="137.65" y="250.75" text-anchor="middle">X</text><text class="ax" transform="translate(7.10 118.80) rotate(-90)" text-anchor="middle">Y</text><text class="lab" x="42.10" y="39.75">(a)</text><rect x="275.55" y="0.00" width="17.10" height="206.90" fill="url(#cb)" transform="translate(0 15.35)"/><rect x="275.55" y="0.00" width="17.10" height="206.90" fill="url(#st)" transform="translate(0 15.35)"/><rect x="275.55" y="15.35" width="17.10" height="206.90" fill="none" stroke="#333" stroke-width="0.55"/><path d="M292.80 15.35v206.90" stroke="#000" stroke-width="0.8" fill="none"/><text class="c" transform="translate(299.35 17.80) scale(1 1.13)" >1.004</text><text class="c" transform="translate(299.35 43.74) scale(1 1.13)" >0.9225</text><text class="c" transform="translate(299.35 69.68) scale(1 1.13)" >0.8410</text><text class="c" transform="translate(299.35 95.61) scale(1 1.13)" >0.7595</text><text class="c" transform="translate(299.35 121.55) scale(1 1.13)" >0.6780</text><text class="c" transform="translate(299.35 147.49) scale(1 1.13)" >0.5965</text><text class="c" transform="translate(299.35 173.42) scale(1 1.13)" >0.5150</text><text class="c" transform="translate(299.35 199.36) scale(1 1.13)" >0.4335</text><text class="c" transform="translate(299.35 225.30) scale(1 1.13)" >0.3520</text><path d="M292.65 15.35h4.4M292.65 41.21h4.4M292.65 67.08h4.4M292.65 92.94h4.4M292.65 118.80h4.4M292.65 144.66h4.4M292.65 170.53h4.4M292.65 196.39h4.4M292.65 222.25h4.4" stroke="#000" stroke-width="0.8" fill="none"/><text class="ti" x="284.30" y="7.95" text-anchor="middle">Potential</text></g>
<g><rect x="398.50" y="15.35" width="208.85" height="206.90" fill="url(#gb)"/><path d="M411.55 222.25v-2.10M411.55 15.35v2.10M398.50 28.28h2.10M607.35 28.28h-2.10M424.61 222.25v-3.90M424.61 15.35v3.90M398.50 41.21h3.90M607.35 41.21h-3.90M437.66 222.25v-2.10M437.66 15.35v2.10M398.50 54.14h2.10M607.35 54.14h-2.10M450.71 222.25v-3.90M450.71 15.35v3.90M398.50 67.08h3.90M607.35 67.08h-3.90M463.77 222.25v-2.10M463.77 15.35v2.10M398.50 80.01h2.10M607.35 80.01h-2.10M476.82 222.25v-3.90M476.82 15.35v3.90M398.50 92.94h3.90M607.35 92.94h-3.90M489.87 222.25v-2.10M489.87 15.35v2.10M398.50 105.87h2.10M607.35 105.87h-2.10M502.93 222.25v-3.90M502.93 15.35v3.90M398.50 118.80h3.90M607.35 118.80h-3.90M515.98 222.25v-2.10M515.98 15.35v2.10M398.50 131.73h2.10M607.35 131.73h-2.10M529.03 222.25v-3.90M529.03 15.35v3.90M398.50 144.66h3.90M607.35 144.66h-3.90M542.08 222.25v-2.10M542.08 15.35v2.10M398.50 157.59h2.10M607.35 157.59h-2.10M555.14 222.25v-3.90M555.14 15.35v3.90M398.50 170.53h3.90M607.35 170.53h-3.90M568.19 222.25v-2.10M568.19 15.35v2.10M398.50 183.46h2.10M607.35 183.46h-2.10M581.24 222.25v-3.90M581.24 15.35v3.90M398.50 196.39h3.90M607.35 196.39h-3.90M594.30 222.25v-2.10M594.30 15.35v2.10M398.50 209.32h2.10M607.35 209.32h-2.10" stroke="#111" stroke-width="1.1" fill="none"/><rect x="398.50" y="15.35" width="208.85" height="206.90" fill="none" stroke="#111" stroke-width="1.12"/><text class="t" transform="translate(398.70 233.25) scale(1 1.07)" text-anchor="middle">−2.0</text><text class="t" transform="translate(394.10 224.95) scale(1 1.07)" text-anchor="end">−2.0</text><text class="t" transform="translate(424.81 233.25) scale(1 1.07)" text-anchor="middle">−1.5</text><text class="t" transform="translate(394.10 199.09) scale(1 1.07)" text-anchor="end">−1.5</text><text class="t" transform="translate(450.91 233.25) scale(1 1.07)" text-anchor="middle">−1.0</text><text class="t" transform="translate(394.10 173.22) scale(1 1.07)" text-anchor="end">−1.0</text><text class="t" transform="translate(477.02 233.25) scale(1 1.07)" text-anchor="middle">−0.5</text><text class="t" transform="translate(394.10 147.36) scale(1 1.07)" text-anchor="end">−0.5</text><text class="t" transform="translate(503.12 233.25) scale(1 1.07)" text-anchor="middle">0.0</text><text class="t" transform="translate(394.10 121.50) scale(1 1.07)" text-anchor="end">0.0</text><text class="t" transform="translate(529.23 233.25) scale(1 1.07)" text-anchor="middle">0.5</text><text class="t" transform="translate(394.10 95.64) scale(1 1.07)" text-anchor="end">0.5</text><text class="t" transform="translate(555.34 233.25) scale(1 1.07)" text-anchor="middle">1.0</text><text class="t" transform="translate(394.10 69.77) scale(1 1.07)" text-anchor="end">1.0</text><text class="t" transform="translate(581.44 233.25) scale(1 1.07)" text-anchor="middle">1.5</text><text class="t" transform="translate(394.10 43.91) scale(1 1.07)" text-anchor="end">1.5</text><text class="t" transform="translate(607.55 233.25) scale(1 1.07)" text-anchor="middle">2.0</text><text class="t" transform="translate(394.10 18.05) scale(1 1.07)" text-anchor="end">2.0</text><text class="ax" x="502.93" y="250.75" text-anchor="middle">X</text><text class="ax" transform="translate(372.10 118.80) rotate(-90)" text-anchor="middle">Y</text><text class="lab" x="407.10" y="39.75">(b)</text><rect x="641.00" y="0.00" width="17.10" height="206.90" fill="url(#cb)" transform="translate(0 15.35)"/><rect x="641.00" y="0.00" width="17.10" height="206.90" fill="url(#st)" transform="translate(0 15.35)"/><rect x="641.00" y="15.35" width="17.10" height="206.90" fill="none" stroke="#333" stroke-width="0.55"/><path d="M658.25 15.35v206.90" stroke="#000" stroke-width="0.8" fill="none"/><text class="c" transform="translate(664.80 17.80) scale(1 1.13)" >1.000</text><text class="c" transform="translate(664.80 43.74) scale(1 1.13)" >0.8750</text><text class="c" transform="translate(664.80 69.68) scale(1 1.13)" >0.7500</text><text class="c" transform="translate(664.80 95.61) scale(1 1.13)" >0.6250</text><text class="c" transform="translate(664.80 121.55) scale(1 1.13)" >0.5000</text><text class="c" transform="translate(664.80 147.49) scale(1 1.13)" >0.3750</text><text class="c" transform="translate(664.80 173.42) scale(1 1.13)" >0.2500</text><text class="c" transform="translate(664.80 199.36) scale(1 1.13)" >0.1250</text><text class="c" transform="translate(664.80 225.30) scale(1 1.13)" >0.000</text><path d="M658.10 15.35h4.4M658.10 41.21h4.4M658.10 67.08h4.4M658.10 92.94h4.4M658.10 118.80h4.4M658.10 144.66h4.4M658.10 170.53h4.4M658.10 196.39h4.4M658.10 222.25h4.4" stroke="#000" stroke-width="0.8" fill="none"/><text class="ti" x="649.75" y="7.95" text-anchor="middle">Electric Field</text></g>
<g><rect x="33.50" y="304.35" width="208.95" height="206.95" fill="url(#gc)"/><path d="M46.56 511.30v-2.10M46.56 304.35v2.10M33.50 317.28h2.10M242.45 317.28h-2.10M59.62 511.30v-3.90M59.62 304.35v3.90M33.50 330.22h3.90M242.45 330.22h-3.90M72.68 511.30v-2.10M72.68 304.35v2.10M33.50 343.15h2.10M242.45 343.15h-2.10M85.74 511.30v-3.90M85.74 304.35v3.90M33.50 356.09h3.90M242.45 356.09h-3.90M98.80 511.30v-2.10M98.80 304.35v2.10M33.50 369.02h2.10M242.45 369.02h-2.10M111.86 511.30v-3.90M111.86 304.35v3.90M33.50 381.96h3.90M242.45 381.96h-3.90M124.92 511.30v-2.10M124.92 304.35v2.10M33.50 394.89h2.10M242.45 394.89h-2.10M137.97 511.30v-3.90M137.97 304.35v3.90M33.50 407.83h3.90M242.45 407.83h-3.90M151.03 511.30v-2.10M151.03 304.35v2.10M33.50 420.76h2.10M242.45 420.76h-2.10M164.09 511.30v-3.90M164.09 304.35v3.90M33.50 433.69h3.90M242.45 433.69h-3.90M177.15 511.30v-2.10M177.15 304.35v2.10M33.50 446.63h2.10M242.45 446.63h-2.10M190.21 511.30v-3.90M190.21 304.35v3.90M33.50 459.56h3.90M242.45 459.56h-3.90M203.27 511.30v-2.10M203.27 304.35v2.10M33.50 472.50h2.10M242.45 472.50h-2.10M216.33 511.30v-3.90M216.33 304.35v3.90M33.50 485.43h3.90M242.45 485.43h-3.90M229.39 511.30v-2.10M229.39 304.35v2.10M33.50 498.37h2.10M242.45 498.37h-2.10" stroke="#111" stroke-width="1.1" fill="none"/><rect x="33.50" y="304.35" width="208.95" height="206.95" fill="none" stroke="#111" stroke-width="1.12"/><text class="t" transform="translate(33.70 522.30) scale(1 1.07)" text-anchor="middle">−2.0</text><text class="t" transform="translate(29.10 514.00) scale(1 1.07)" text-anchor="end">−2.0</text><text class="t" transform="translate(59.82 522.30) scale(1 1.07)" text-anchor="middle">−1.5</text><text class="t" transform="translate(29.10 488.13) scale(1 1.07)" text-anchor="end">−1.5</text><text class="t" transform="translate(85.94 522.30) scale(1 1.07)" text-anchor="middle">−1.0</text><text class="t" transform="translate(29.10 462.26) scale(1 1.07)" text-anchor="end">−1.0</text><text class="t" transform="translate(112.06 522.30) scale(1 1.07)" text-anchor="middle">−0.5</text><text class="t" transform="translate(29.10 436.39) scale(1 1.07)" text-anchor="end">−0.5</text><text class="t" transform="translate(138.17 522.30) scale(1 1.07)" text-anchor="middle">0.0</text><text class="t" transform="translate(29.10 410.53) scale(1 1.07)" text-anchor="end">0.0</text><text class="t" transform="translate(164.29 522.30) scale(1 1.07)" text-anchor="middle">0.5</text><text class="t" transform="translate(29.10 384.66) scale(1 1.07)" text-anchor="end">0.5</text><text class="t" transform="translate(190.41 522.30) scale(1 1.07)" text-anchor="middle">1.0</text><text class="t" transform="translate(29.10 358.79) scale(1 1.07)" text-anchor="end">1.0</text><text class="t" transform="translate(216.53 522.30) scale(1 1.07)" text-anchor="middle">1.5</text><text class="t" transform="translate(29.10 332.92) scale(1 1.07)" text-anchor="end">1.5</text><text class="t" transform="translate(242.65 522.30) scale(1 1.07)" text-anchor="middle">2.0</text><text class="t" transform="translate(29.10 307.05) scale(1 1.07)" text-anchor="end">2.0</text><text class="ax" x="137.97" y="539.80" text-anchor="middle">X</text><text class="ax" transform="translate(7.10 407.83) rotate(-90)" text-anchor="middle">Y</text><text class="lab" x="42.10" y="328.75">(c)</text><rect x="276.30" y="0.00" width="17.10" height="206.95" fill="url(#cb)" transform="translate(0 304.35)"/><rect x="276.30" y="0.00" width="17.10" height="206.95" fill="url(#st)" transform="translate(0 304.35)"/><rect x="276.30" y="304.35" width="17.10" height="206.95" fill="none" stroke="#333" stroke-width="0.55"/><path d="M293.55 304.35v206.95" stroke="#000" stroke-width="0.8" fill="none"/><text class="c" transform="translate(300.10 306.80) scale(1 1.13)" >1.002</text><text class="c" transform="translate(300.10 332.74) scale(1 1.13)" >0.9190</text><text class="c" transform="translate(300.10 358.69) scale(1 1.13)" >0.8360</text><text class="c" transform="translate(300.10 384.63) scale(1 1.13)" >0.7530</text><text class="c" transform="translate(300.10 410.58) scale(1 1.13)" >0.6700</text><text class="c" transform="translate(300.10 436.52) scale(1 1.13)" >0.5870</text><text class="c" transform="translate(300.10 462.46) scale(1 1.13)" >0.5040</text><text class="c" transform="translate(300.10 488.41) scale(1 1.13)" >0.4210</text><text class="c" transform="translate(300.10 514.35) scale(1 1.13)" >0.3380</text><path d="M293.40 304.35h4.4M293.40 330.22h4.4M293.40 356.09h4.4M293.40 381.96h4.4M293.40 407.83h4.4M293.40 433.69h4.4M293.40 459.56h4.4M293.40 485.43h4.4M293.40 511.30h4.4" stroke="#000" stroke-width="0.8" fill="none"/><text class="ti" x="285.05" y="296.95" text-anchor="middle">Potential</text></g>
<g><rect x="398.50" y="304.35" width="209.00" height="206.90" fill="url(#gd)"/><path d="M411.56 511.25v-2.10M411.56 304.35v2.10M398.50 317.28h2.10M607.50 317.28h-2.10M424.62 511.25v-3.90M424.62 304.35v3.90M398.50 330.21h3.90M607.50 330.21h-3.90M437.69 511.25v-2.10M437.69 304.35v2.10M398.50 343.14h2.10M607.50 343.14h-2.10M450.75 511.25v-3.90M450.75 304.35v3.90M398.50 356.08h3.90M607.50 356.08h-3.90M463.81 511.25v-2.10M463.81 304.35v2.10M398.50 369.01h2.10M607.50 369.01h-2.10M476.88 511.25v-3.90M476.88 304.35v3.90M398.50 381.94h3.90M607.50 381.94h-3.90M489.94 511.25v-2.10M489.94 304.35v2.10M398.50 394.87h2.10M607.50 394.87h-2.10M503.00 511.25v-3.90M503.00 304.35v3.90M398.50 407.80h3.90M607.50 407.80h-3.90M516.06 511.25v-2.10M516.06 304.35v2.10M398.50 420.73h2.10M607.50 420.73h-2.10M529.12 511.25v-3.90M529.12 304.35v3.90M398.50 433.66h3.90M607.50 433.66h-3.90M542.19 511.25v-2.10M542.19 304.35v2.10M398.50 446.59h2.10M607.50 446.59h-2.10M555.25 511.25v-3.90M555.25 304.35v3.90M398.50 459.52h3.90M607.50 459.52h-3.90M568.31 511.25v-2.10M568.31 304.35v2.10M398.50 472.46h2.10M607.50 472.46h-2.10M581.38 511.25v-3.90M581.38 304.35v3.90M398.50 485.39h3.90M607.50 485.39h-3.90M594.44 511.25v-2.10M594.44 304.35v2.10M398.50 498.32h2.10M607.50 498.32h-2.10" stroke="#111" stroke-width="1.1" fill="none"/><rect x="398.50" y="304.35" width="209.00" height="206.90" fill="none" stroke="#111" stroke-width="1.12"/><text class="t" transform="translate(398.70 522.25) scale(1 1.07)" text-anchor="middle">−2.0</text><text class="t" transform="translate(394.10 513.95) scale(1 1.07)" text-anchor="end">−2.0</text><text class="t" transform="translate(424.82 522.25) scale(1 1.07)" text-anchor="middle">−1.5</text><text class="t" transform="translate(394.10 488.09) scale(1 1.07)" text-anchor="end">−1.5</text><text class="t" transform="translate(450.95 522.25) scale(1 1.07)" text-anchor="middle">−1.0</text><text class="t" transform="translate(394.10 462.22) scale(1 1.07)" text-anchor="end">−1.0</text><text class="t" transform="translate(477.07 522.25) scale(1 1.07)" text-anchor="middle">−0.5</text><text class="t" transform="translate(394.10 436.36) scale(1 1.07)" text-anchor="end">−0.5</text><text class="t" transform="translate(503.20 522.25) scale(1 1.07)" text-anchor="middle">0.0</text><text class="t" transform="translate(394.10 410.50) scale(1 1.07)" text-anchor="end">0.0</text><text class="t" transform="translate(529.33 522.25) scale(1 1.07)" text-anchor="middle">0.5</text><text class="t" transform="translate(394.10 384.64) scale(1 1.07)" text-anchor="end">0.5</text><text class="t" transform="translate(555.45 522.25) scale(1 1.07)" text-anchor="middle">1.0</text><text class="t" transform="translate(394.10 358.78) scale(1 1.07)" text-anchor="end">1.0</text><text class="t" transform="translate(581.58 522.25) scale(1 1.07)" text-anchor="middle">1.5</text><text class="t" transform="translate(394.10 332.91) scale(1 1.07)" text-anchor="end">1.5</text><text class="t" transform="translate(607.70 522.25) scale(1 1.07)" text-anchor="middle">2.0</text><text class="t" transform="translate(394.10 307.05) scale(1 1.07)" text-anchor="end">2.0</text><text class="ax" x="503.00" y="539.75" text-anchor="middle">X</text><text class="ax" transform="translate(372.10 407.80) rotate(-90)" text-anchor="middle">Y</text><text class="lab" x="407.10" y="328.75">(d)</text><rect x="641.45" y="0.00" width="17.10" height="206.90" fill="url(#cb)" transform="translate(0 304.35)"/><rect x="641.45" y="0.00" width="17.10" height="206.90" fill="url(#st)" transform="translate(0 304.35)"/><rect x="641.45" y="304.35" width="17.10" height="206.90" fill="none" stroke="#333" stroke-width="0.55"/><path d="M658.70 304.35v206.90" stroke="#000" stroke-width="0.8" fill="none"/><text class="c" transform="translate(665.25 306.80) scale(1 1.13)" >1.000</text><text class="c" transform="translate(665.25 332.74) scale(1 1.13)" >0.8750</text><text class="c" transform="translate(665.25 358.68) scale(1 1.13)" >0.7500</text><text class="c" transform="translate(665.25 384.61) scale(1 1.13)" >0.6250</text><text class="c" transform="translate(665.25 410.55) scale(1 1.13)" >0.5000</text><text class="c" transform="translate(665.25 436.49) scale(1 1.13)" >0.3750</text><text class="c" transform="translate(665.25 462.42) scale(1 1.13)" >0.2500</text><text class="c" transform="translate(665.25 488.36) scale(1 1.13)" >0.1250</text><text class="c" transform="translate(665.25 514.30) scale(1 1.13)" >0.000</text><path d="M658.55 304.35h4.4M658.55 330.21h4.4M658.55 356.08h4.4M658.55 381.94h4.4M658.55 407.80h4.4M658.55 433.66h4.4M658.55 459.52h4.4M658.55 485.39h4.4M658.55 511.25h4.4" stroke="#000" stroke-width="0.8" fill="none"/><text class="ti" x="650.20" y="296.95" text-anchor="middle">Electric Field</text></g>
<g><rect x="33.50" y="593.50" width="208.90" height="206.70" fill="url(#ge)"/><path d="M46.56 800.20v-2.10M46.56 593.50v2.10M33.50 606.42h2.10M242.40 606.42h-2.10M59.61 800.20v-3.90M59.61 593.50v3.90M33.50 619.34h3.90M242.40 619.34h-3.90M72.67 800.20v-2.10M72.67 593.50v2.10M33.50 632.26h2.10M242.40 632.26h-2.10M85.72 800.20v-3.90M85.72 593.50v3.90M33.50 645.17h3.90M242.40 645.17h-3.90M98.78 800.20v-2.10M98.78 593.50v2.10M33.50 658.09h2.10M242.40 658.09h-2.10M111.84 800.20v-3.90M111.84 593.50v3.90M33.50 671.01h3.90M242.40 671.01h-3.90M124.89 800.20v-2.10M124.89 593.50v2.10M33.50 683.93h2.10M242.40 683.93h-2.10M137.95 800.20v-3.90M137.95 593.50v3.90M33.50 696.85h3.90M242.40 696.85h-3.90M151.01 800.20v-2.10M151.01 593.50v2.10M33.50 709.77h2.10M242.40 709.77h-2.10M164.06 800.20v-3.90M164.06 593.50v3.90M33.50 722.69h3.90M242.40 722.69h-3.90M177.12 800.20v-2.10M177.12 593.50v2.10M33.50 735.61h2.10M242.40 735.61h-2.10M190.18 800.20v-3.90M190.18 593.50v3.90M33.50 748.53h3.90M242.40 748.53h-3.90M203.23 800.20v-2.10M203.23 593.50v2.10M33.50 761.44h2.10M242.40 761.44h-2.10M216.29 800.20v-3.90M216.29 593.50v3.90M33.50 774.36h3.90M242.40 774.36h-3.90M229.34 800.20v-2.10M229.34 593.50v2.10M33.50 787.28h2.10M242.40 787.28h-2.10" stroke="#111" stroke-width="1.1" fill="none"/><rect x="33.50" y="593.50" width="208.90" height="206.70" fill="none" stroke="#111" stroke-width="1.12"/><text class="t" transform="translate(33.70 811.00) scale(1 1.07)" text-anchor="middle">−2.0</text><text class="t" transform="translate(29.10 802.90) scale(1 1.07)" text-anchor="end">−2.0</text><text class="t" transform="translate(59.81 811.00) scale(1 1.07)" text-anchor="middle">−1.5</text><text class="t" transform="translate(29.10 777.06) scale(1 1.07)" text-anchor="end">−1.5</text><text class="t" transform="translate(85.92 811.00) scale(1 1.07)" text-anchor="middle">−1.0</text><text class="t" transform="translate(29.10 751.23) scale(1 1.07)" text-anchor="end">−1.0</text><text class="t" transform="translate(112.04 811.00) scale(1 1.07)" text-anchor="middle">−0.5</text><text class="t" transform="translate(29.10 725.39) scale(1 1.07)" text-anchor="end">−0.5</text><text class="t" transform="translate(138.15 811.00) scale(1 1.07)" text-anchor="middle">0.0</text><text class="t" transform="translate(29.10 699.55) scale(1 1.07)" text-anchor="end">0.0</text><text class="t" transform="translate(164.26 811.00) scale(1 1.07)" text-anchor="middle">0.5</text><text class="t" transform="translate(29.10 673.71) scale(1 1.07)" text-anchor="end">0.5</text><text class="t" transform="translate(190.38 811.00) scale(1 1.07)" text-anchor="middle">1.0</text><text class="t" transform="translate(29.10 647.88) scale(1 1.07)" text-anchor="end">1.0</text><text class="t" transform="translate(216.49 811.00) scale(1 1.07)" text-anchor="middle">1.5</text><text class="t" transform="translate(29.10 622.04) scale(1 1.07)" text-anchor="end">1.5</text><text class="t" transform="translate(242.60 811.00) scale(1 1.07)" text-anchor="middle">2.0</text><text class="t" transform="translate(29.10 596.20) scale(1 1.07)" text-anchor="end">2.0</text><text class="ax" x="137.95" y="828.70" text-anchor="middle">X</text><text class="ax" transform="translate(7.10 696.85) rotate(-90)" text-anchor="middle">Y</text><text class="lab" x="42.10" y="617.90">(e)</text><rect x="276.30" y="0.00" width="17.10" height="206.70" fill="url(#cb)" transform="translate(0 593.50)"/><rect x="276.30" y="0.00" width="17.10" height="206.70" fill="url(#st)" transform="translate(0 593.50)"/><rect x="276.30" y="593.50" width="17.10" height="206.70" fill="none" stroke="#333" stroke-width="0.55"/><path d="M293.55 593.50v206.70" stroke="#000" stroke-width="0.8" fill="none"/><text class="c" transform="translate(300.10 595.95) scale(1 1.13)" >1.002</text><text class="c" transform="translate(300.10 621.86) scale(1 1.13)" >0.9183</text><text class="c" transform="translate(300.10 647.77) scale(1 1.13)" >0.8345</text><text class="c" transform="translate(300.10 673.69) scale(1 1.13)" >0.7508</text><text class="c" transform="translate(300.10 699.60) scale(1 1.13)" >0.6670</text><text class="c" transform="translate(300.10 725.51) scale(1 1.13)" >0.5833</text><text class="c" transform="translate(300.10 751.43) scale(1 1.13)" >0.4995</text><text class="c" transform="translate(300.10 777.34) scale(1 1.13)" >0.4158</text><text class="c" transform="translate(300.10 803.25) scale(1 1.13)" >0.3320</text><path d="M293.40 593.50h4.4M293.40 619.34h4.4M293.40 645.17h4.4M293.40 671.01h4.4M293.40 696.85h4.4M293.40 722.69h4.4M293.40 748.53h4.4M293.40 774.36h4.4M293.40 800.20h4.4" stroke="#000" stroke-width="0.8" fill="none"/><text class="ti" x="285.05" y="586.10" text-anchor="middle">Potential</text></g>
<g><rect x="398.50" y="593.50" width="209.00" height="206.70" fill="url(#gf)"/><ellipse cx="503.60" cy="696.95" rx="1.0" ry="1.9" fill="#ff8a00"/><ellipse cx="503.60" cy="696.95" rx="0.5" ry="1.15" fill="#b4dc00"/><path d="M411.56 800.20v-2.10M411.56 593.50v2.10M398.50 606.42h2.10M607.50 606.42h-2.10M424.62 800.20v-3.90M424.62 593.50v3.90M398.50 619.34h3.90M607.50 619.34h-3.90M437.69 800.20v-2.10M437.69 593.50v2.10M398.50 632.26h2.10M607.50 632.26h-2.10M450.75 800.20v-3.90M450.75 593.50v3.90M398.50 645.17h3.90M607.50 645.17h-3.90M463.81 800.20v-2.10M463.81 593.50v2.10M398.50 658.09h2.10M607.50 658.09h-2.10M476.88 800.20v-3.90M476.88 593.50v3.90M398.50 671.01h3.90M607.50 671.01h-3.90M489.94 800.20v-2.10M489.94 593.50v2.10M398.50 683.93h2.10M607.50 683.93h-2.10M503.00 800.20v-3.90M503.00 593.50v3.90M398.50 696.85h3.90M607.50 696.85h-3.90M516.06 800.20v-2.10M516.06 593.50v2.10M398.50 709.77h2.10M607.50 709.77h-2.10M529.12 800.20v-3.90M529.12 593.50v3.90M398.50 722.69h3.90M607.50 722.69h-3.90M542.19 800.20v-2.10M542.19 593.50v2.10M398.50 735.61h2.10M607.50 735.61h-2.10M555.25 800.20v-3.90M555.25 593.50v3.90M398.50 748.53h3.90M607.50 748.53h-3.90M568.31 800.20v-2.10M568.31 593.50v2.10M398.50 761.44h2.10M607.50 761.44h-2.10M581.38 800.20v-3.90M581.38 593.50v3.90M398.50 774.36h3.90M607.50 774.36h-3.90M594.44 800.20v-2.10M594.44 593.50v2.10M398.50 787.28h2.10M607.50 787.28h-2.10" stroke="#111" stroke-width="1.1" fill="none"/><rect x="398.50" y="593.50" width="209.00" height="206.70" fill="none" stroke="#111" stroke-width="1.12"/><text class="t" transform="translate(398.70 811.00) scale(1 1.07)" text-anchor="middle">−2.0</text><text class="t" transform="translate(394.10 802.90) scale(1 1.07)" text-anchor="end">−2.0</text><text class="t" transform="translate(424.82 811.00) scale(1 1.07)" text-anchor="middle">−1.5</text><text class="t" transform="translate(394.10 777.06) scale(1 1.07)" text-anchor="end">−1.5</text><text class="t" transform="translate(450.95 811.00) scale(1 1.07)" text-anchor="middle">−1.0</text><text class="t" transform="translate(394.10 751.23) scale(1 1.07)" text-anchor="end">−1.0</text><text class="t" transform="translate(477.07 811.00) scale(1 1.07)" text-anchor="middle">−0.5</text><text class="t" transform="translate(394.10 725.39) scale(1 1.07)" text-anchor="end">−0.5</text><text class="t" transform="translate(503.20 811.00) scale(1 1.07)" text-anchor="middle">0.0</text><text class="t" transform="translate(394.10 699.55) scale(1 1.07)" text-anchor="end">0.0</text><text class="t" transform="translate(529.33 811.00) scale(1 1.07)" text-anchor="middle">0.5</text><text class="t" transform="translate(394.10 673.71) scale(1 1.07)" text-anchor="end">0.5</text><text class="t" transform="translate(555.45 811.00) scale(1 1.07)" text-anchor="middle">1.0</text><text class="t" transform="translate(394.10 647.88) scale(1 1.07)" text-anchor="end">1.0</text><text class="t" transform="translate(581.58 811.00) scale(1 1.07)" text-anchor="middle">1.5</text><text class="t" transform="translate(394.10 622.04) scale(1 1.07)" text-anchor="end">1.5</text><text class="t" transform="translate(607.70 811.00) scale(1 1.07)" text-anchor="middle">2.0</text><text class="t" transform="translate(394.10 596.20) scale(1 1.07)" text-anchor="end">2.0</text><text class="ax" x="503.00" y="828.70" text-anchor="middle">X</text><text class="ax" transform="translate(372.10 696.85) rotate(-90)" text-anchor="middle">Y</text><text class="lab" x="407.10" y="617.90">(f)</text><rect x="641.45" y="0.00" width="17.10" height="206.70" fill="url(#cb)" transform="translate(0 593.50)"/><rect x="641.45" y="0.00" width="17.10" height="206.70" fill="url(#st)" transform="translate(0 593.50)"/><rect x="641.45" y="593.50" width="17.10" height="206.70" fill="none" stroke="#333" stroke-width="0.55"/><path d="M658.70 593.50v206.70" stroke="#000" stroke-width="0.8" fill="none"/><text class="c" transform="translate(665.25 595.95) scale(1 1.13)" >1.000</text><text class="c" transform="translate(665.25 621.86) scale(1 1.13)" >0.8750</text><text class="c" transform="translate(665.25 647.77) scale(1 1.13)" >0.7500</text><text class="c" transform="translate(665.25 673.69) scale(1 1.13)" >0.6250</text><text class="c" transform="translate(665.25 699.60) scale(1 1.13)" >0.5000</text><text class="c" transform="translate(665.25 725.51) scale(1 1.13)" >0.3750</text><text class="c" transform="translate(665.25 751.43) scale(1 1.13)" >0.2500</text><text class="c" transform="translate(665.25 777.34) scale(1 1.13)" >0.1250</text><text class="c" transform="translate(665.25 803.25) scale(1 1.13)" >0.000</text><path d="M658.55 593.50h4.4M658.55 619.34h4.4M658.55 645.17h4.4M658.55 671.01h4.4M658.55 696.85h4.4M658.55 722.69h4.4M658.55 748.53h4.4M658.55 774.36h4.4M658.55 800.20h4.4" stroke="#000" stroke-width="0.8" fill="none"/><text class="ti" x="650.20" y="586.10" text-anchor="middle">Electric Field</text></g>
</svg>
</body></html>
